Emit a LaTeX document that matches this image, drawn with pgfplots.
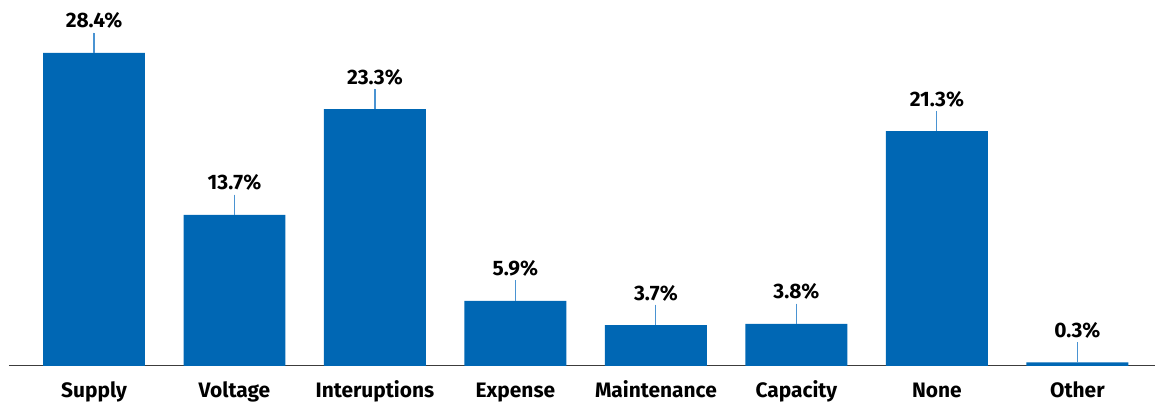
\documentclass[border=0pt]{standalone}
\usepackage{pgfplots}
\pgfplotsset{compat=1.18}
\usepackage{fontspec}
\setmainfont{Fira Sans}

\definecolor{barblue}{HTML}{0067B4}
\definecolor{leadblue}{HTML}{4A93D2}
\definecolor{axisgray}{HTML}{3C3C3C}

\begin{document}
\begin{tikzpicture}
\begin{axis}[
  at={(0,0)}, anchor=south west,
  scale only axis,
  width=1147bp, height=366bp,
  xmin=-0.605, xmax=7.555,
  ymin=0, ymax=33.21,
  ybar, bar width=102bp,
  axis y line=none,
  axis x line*=bottom,
  x axis line style={draw=axisgray, line width=1.3pt},
  xtick=data,
  xticklabels={Supply,Voltage,Interuptions,Expense,Maintenance,Capacity,None,Other},
  xtick style={draw=none},
  xticklabel style={anchor=base, yshift=-27bp, font=\fontsize{21}{25}\selectfont\bfseries},
  nodes near coords={\pgfmathprintnumber[fixed,precision=1,fixed zerofill]{\pgfplotspointmeta}\%},
  every node near coord/.append style={anchor=base, yshift=25bp, font=\fontsize{21}{25}\selectfont\bfseries, text=black},
  /pgf/number format/assume math mode=true,
  clip=false,
]
\addplot[fill=barblue, draw=none,
  error bars/.cd, y dir=plus, y fixed=1.85,
  error mark=none, error bar style={draw=leadblue, line width=1.1pt}]
coordinates {
(0,28.4)
(1,13.7)
(2,23.3)
(3,5.9)
(4,3.7)
(5,3.8)
(6,21.3)
(7,0.3)
};
\end{axis}
\path (-9bp,-35bp) rectangle (1147bp,366bp);
\end{tikzpicture}
\end{document}
